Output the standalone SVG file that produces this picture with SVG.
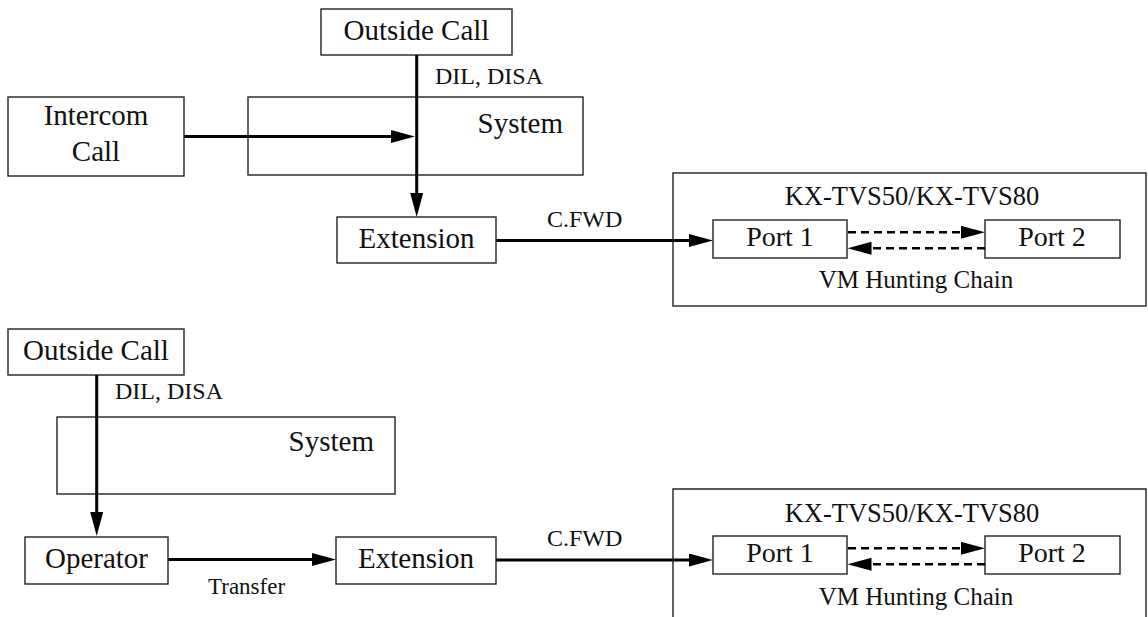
<svg xmlns="http://www.w3.org/2000/svg" width="1148" height="617" viewBox="0 0 1148 617">
<style>
.box{fill:none;stroke:#222;stroke-width:1.4}
.t{font-family:"Liberation Serif","Times New Roman",serif;fill:#111}
.big{font-size:29px}
.mid{font-size:28px}
.lbl{font-size:24px}
.c{text-anchor:middle}
.e{text-anchor:end}
.ln{stroke:#000;stroke-width:3;fill:none}
.dash{stroke:#000;stroke-width:2.6;fill:none;stroke-dasharray:8 5}
</style>
<defs>
<marker id="ah" markerUnits="userSpaceOnUse" markerWidth="26" markerHeight="14" refX="16" refY="6.5" orient="auto">
<path d="M0,0 L24,6.5 L0,13 Z" fill="#000"/>
</marker>
</defs>
<rect width="1148" height="617" fill="#fff"/>

<!-- upper diagram -->
<g id="outside1"><rect class="box" x="321" y="9" width="191" height="46"/><text class="t big c" x="416.5" y="40">Outside Call</text></g>
<g id="system1"><rect class="box" x="248" y="97" width="335" height="78"/><text class="t big e" x="563" y="133">System</text></g>
<g id="intercom"><rect class="box" x="8" y="97" width="176" height="79"/><text class="t big c" x="96" y="125">Intercom</text><text class="t big c" x="96" y="161">Call</text></g>
<g id="extension1"><rect class="box" x="337" y="217" width="159" height="46"/><text class="t big c" x="416.5" y="248">Extension</text></g>
<g id="vm1"><rect class="box" x="673" y="173" width="473" height="133"/><text class="t c" style="font-size:26.5px" x="912" y="205">KX-TVS50/KX-TVS80</text><text class="t c" style="font-size:25px" x="916" y="288">VM Hunting Chain</text></g>
<g id="port1a"><rect class="box" x="713" y="220" width="134" height="38"/><text class="t mid c" x="780" y="246">Port 1</text></g>
<g id="port2a"><rect class="box" x="985" y="220" width="135" height="38"/><text class="t mid c" x="1052" y="246">Port 2</text></g>

<!-- lower diagram -->
<g id="outside2"><rect class="box" x="8" y="329" width="176" height="46"/><text class="t big c" x="96" y="360">Outside Call</text></g>
<g id="system2"><rect class="box" x="57" y="417" width="338" height="77"/><text class="t big e" x="374" y="451">System</text></g>
<g id="operator"><rect class="box" x="25" y="537" width="143" height="47"/><text class="t big c" x="96.5" y="568">Operator</text></g>
<g id="extension2"><rect class="box" x="336" y="537" width="160" height="47"/><text class="t big c" x="416" y="568">Extension</text></g>
<g id="vm2"><path class="box" d="M673,617 V489 H1146 V617"/><text class="t c" style="font-size:26.5px" x="912" y="522">KX-TVS50/KX-TVS80</text><text class="t c" style="font-size:25px" x="916" y="605">VM Hunting Chain</text></g>
<g id="port1b"><rect class="box" x="713" y="536" width="134" height="38"/><text class="t mid c" x="780" y="562">Port 1</text></g>
<g id="port2b"><rect class="box" x="985" y="536" width="135" height="38"/><text class="t mid c" x="1052" y="562">Port 2</text></g>

<g id="connectors">
<line class="ln" x1="416.7" y1="55" x2="416.7" y2="209" marker-end="url(#ah)"/>
<line class="ln" x1="184" y1="136.5" x2="407" y2="136.5" marker-end="url(#ah)"/>
<line class="ln" x1="496" y1="240.5" x2="705" y2="240.5" marker-end="url(#ah)"/>
<line class="dash" x1="848" y1="232.3" x2="977" y2="232.3" marker-end="url(#ah)"/>
<line class="dash" x1="985" y1="248.3" x2="855.5" y2="248.3" marker-end="url(#ah)"/>
<text class="t lbl" x="435" y="84">DIL, DISA</text>
<text class="t lbl" x="547" y="227">C.FWD</text>

<line class="ln" x1="96.7" y1="375" x2="96.7" y2="528" marker-end="url(#ah)"/>
<line class="ln" x1="168" y1="559.5" x2="328" y2="559.5" marker-end="url(#ah)"/>
<line class="ln" x1="496" y1="560" x2="705" y2="560" marker-end="url(#ah)"/>
<line class="dash" x1="848" y1="548.3" x2="977" y2="548.3" marker-end="url(#ah)"/>
<line class="dash" x1="985" y1="564.3" x2="855.5" y2="564.3" marker-end="url(#ah)"/>
<text class="t lbl" x="115" y="399">DIL, DISA</text>
<text class="t lbl" x="547" y="546">C.FWD</text>
<text class="t" style="font-size:23px" x="208" y="594">Transfer</text>
</g>
</svg>
